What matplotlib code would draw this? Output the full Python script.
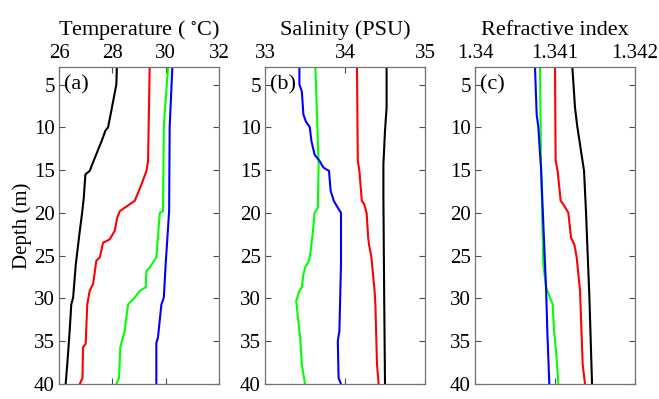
import matplotlib
matplotlib.use('Agg')
import matplotlib.pyplot as plt

plt.rcParams['font.family'] = ['Liberation Serif', 'DejaVu Serif']
plt.rcParams['mathtext.fontset'] = 'stix'

# (a) temperature profiles: depth (m), temperature (deg C)
t_black_d = [3, 5, 8.1, 10, 10.4, 11.6, 13.6, 15.1, 15.5, 18.2, 20.2, 22.1, 26, 29.9, 30.7, 33.8, 37.7, 40]
t_black = [28.17, 28.15, 27.96, 27.84, 27.74, 27.6, 27.34, 27.15, 26.99, 26.93, 26.86, 26.78, 26.63, 26.53, 26.46, 26.4, 26.31, 26.25]
t_red_d = [3, 13.9, 15.1, 16.7, 18.6, 19.0, 19.8, 20.6, 22.1, 23.1, 23.5, 25.2, 25.6, 28.3, 29.1, 30.7, 35.3, 35.7, 39.3, 40]
t_red = [29.4, 29.34, 29.28, 29.09, 28.84, 28.65, 28.28, 28.18, 28.09, 27.9, 27.65, 27.53, 27.4, 27.28, 27.15, 27.06, 27.0, 26.9, 26.88, 26.78]
t_green_d = [3, 8.5, 10, 19.8, 20, 25.2, 26.4, 26.8, 28.7, 29.1, 29.9, 30.5, 30.7, 33.8, 35.7, 39.3, 40]
t_green = [30.09, 29.96, 29.93, 29.9, 29.78, 29.65, 29.4, 29.28, 29.25, 29.03, 28.84, 28.65, 28.59, 28.46, 28.3, 28.25, 28.15]
t_blue_d = [3, 10, 19.8, 26, 29.9, 30.7, 34.6, 35.2, 40]
t_blue = [30.25, 30.15, 30.13, 30.0, 29.93, 29.84, 29.71, 29.65, 29.65]

# (b) salinity profiles (PSU)
s_black_d = [3, 7.7, 10.4, 14.3, 18.2, 29.9, 40]
s_black = [34.52, 34.52, 34.50, 34.48, 34.48, 34.49, 34.50]
s_red_d = [3, 13.9, 15.1, 18.6, 19.0, 20, 22.9, 23.7, 25.2, 29.1, 30.7, 37.7, 40]
s_red = [34.15, 34.16, 34.18, 34.21, 34.24, 34.27, 34.29, 34.30, 34.33, 34.37, 34.38, 34.40, 34.42]
s_green_d = [3, 14.3, 19.4, 20, 22.1, 24.5, 25.6, 26.4, 27.2, 28.7, 29.1, 30.3, 33.8, 34.6, 37.7, 40]
s_green = [33.63, 33.67, 33.66, 33.62, 33.60, 33.57, 33.55, 33.50, 33.48, 33.46, 33.43, 33.39, 33.43, 33.44, 33.46, 33.50]
s_blue_d = [3, 5, 5.8, 8.5, 9.3, 10, 11.6, 13.2, 13.9, 14.7, 15.1, 17.4, 18.6, 19.4, 20, 26, 33.8, 35, 39.3, 40]
s_blue = [33.43, 33.43, 33.46, 33.48, 33.51, 33.56, 33.58, 33.62, 33.68, 33.73, 33.80, 33.82, 33.86, 33.91, 33.95, 33.95, 33.93, 33.91, 33.92, 33.95]

# (c) refractive index profiles
n_black_d = [3, 7.7, 10, 15.1, 20, 29.9, 40]
n_black = [1.341217, 1.34125, 1.34128, 1.341363, 1.341388, 1.34143, 1.341463]
n_red_d = [3, 13.9, 15.1, 18.6, 19.0, 20, 22.9, 23.7, 25.2, 29.1, 37.7, 40]
n_red = [1.341, 1.341008, 1.341033, 1.341071, 1.341104, 1.341167, 1.3412, 1.341242, 1.341271, 1.341313, 1.341346, 1.341375]
n_green_d = [3, 14.3, 26, 28.7, 29.9, 30.7, 33.8, 36.1, 40]
n_green = [1.340813, 1.340825, 1.340854, 1.340888, 1.340938, 1.340971, 1.340988, 1.341013, 1.341042]
n_blue_d = [3, 8.5, 10, 13.2, 14.7, 26, 28.7, 33.8, 40]
n_blue = [1.34075, 1.340771, 1.340792, 1.340813, 1.340825, 1.340875, 1.340888, 1.340904, 1.340929]

depth_ticks = [5, 10, 15, 20, 25, 30, 35, 40]

panels = [
    ('(a)', 'Temperature ( $^{\\circ}$C)', (26, 32), [26, 28, 30, 32], ['26', '28', '30', '32'],
     [(t_black_d, t_black, 'k'), (t_red_d, t_red, 'r'), (t_green_d, t_green, '#00ff00'), (t_blue_d, t_blue, 'b')]),
    ('(b)', 'Salinity (PSU)', (33, 35), [33, 34, 35], ['33', '34', '35'],
     [(s_black_d, s_black, 'k'), (s_red_d, s_red, 'r'), (s_green_d, s_green, '#00ff00'), (s_blue_d, s_blue, 'b')]),
    ('(c)', 'Refractive index', (1.34, 1.342), [1.34, 1.341, 1.342], ['1.34', '1.341', '1.342'],
     [(n_black_d, n_black, 'k'), (n_red_d, n_red, 'r'), (n_green_d, n_green, '#00ff00'), (n_blue_d, n_blue, 'b')]),
]

fig = plt.figure(figsize=(6.59, 3.99), dpi=100)
lefts = [59 / 659, 265 / 659, 475 / 659]
for i, (tag, title, xlim, xt, xtl, lines) in enumerate(panels):
    ax = fig.add_axes([lefts[i], 0.0376, 160 / 659, 0.7935])
    for d, v, c in lines:
        ax.plot(v, d, color=c, lw=1.5)
    ax.set_xlim(*xlim)
    ax.set_ylim(40, 3)
    ax.set_xticks(xt)
    ax.set_xticklabels(xtl)
    ax.set_yticks(depth_ticks)
    ax.xaxis.set_ticks_position('both')
    ax.xaxis.set_label_position('top')
    ax.tick_params(axis='both', direction='in', length=4, width=0.8, color='0.3',
                   labelsize=15, top=True, bottom=True, left=True, right=True,
                   labeltop=True, labelbottom=False, pad=3)
    for s in ax.spines.values():
        s.set_color('0.45')
        s.set_linewidth(0.9)
    ax.set_xlabel(title, fontsize=16, labelpad=7)
    ax.text(0.03, 0.945, tag, transform=ax.transAxes, fontsize=16, va='center', ha='left')
    if i == 0:
        ax.set_ylabel('Depth (m)', fontsize=15, labelpad=1)

fig.savefig('out.png', dpi=100)
